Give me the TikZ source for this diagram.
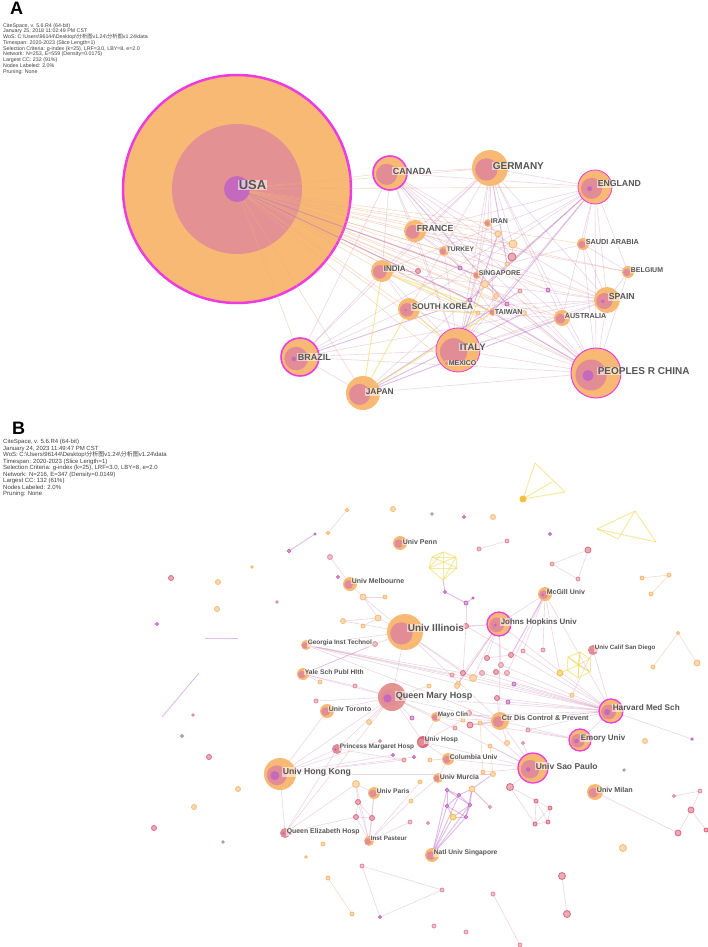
\documentclass[tikz,border=0pt]{standalone}
\usepackage{fontspec}
\setmainfont{Liberation Sans}
\newfontfamily\cjk{Noto Sans CJK SC}

\definecolor{corange}{RGB}{247,185,115}
\definecolor{cpink}{RGB}{226,140,150}
\definecolor{cred}{RGB}{218,105,125}
\definecolor{cpurple}{RGB}{196,105,190}
\definecolor{cmagenta}{RGB}{236,60,225}
\definecolor{cgold}{RGB}{245,190,60}
\definecolor{cgray}{RGB}{170,150,160}
\definecolor{lmauve}{RGB}{212,150,185}
\definecolor{lpurple}{RGB}{185,105,200}
\definecolor{lyellow}{RGB}{240,220,100}
\definecolor{lorange}{RGB}{240,175,130}
\definecolor{labgray}{RGB}{85,85,85}

\tikzset{
  link/.style={draw=lmauve, line width=0.6pt, opacity=0.4},
  linkp/.style={draw=lpurple, line width=0.9pt, opacity=0.45},
  linky/.style={draw=lyellow, line width=1pt, opacity=0.6},
  linko/.style={draw=lorange, line width=0.6pt, opacity=0.45},
  tag/.style={anchor=west, inner sep=0.6pt, fill=white, fill opacity=0.55,
    text opacity=1, text=labgray, font=\bfseries\fontsize{#1}{#1}\selectfont},
  tag/.default=6.7,
  hdr/.style={anchor=north west, align=left, inner sep=0, text=black!75}
}

% ring glyph of a citespace node: [outer style]{coordinate}{radius}{purple ratio}
\newcommand\citenode[4][]{%
  \fill[corange,#1] (#2) circle[radius=#3pt];
  \fill[cpink] ([shift={(-0.2*#3pt,-0.08*#3pt)}]#2) circle[radius=0.62*#3pt];
  \fill[cpurple] ([shift={(-0.32*#3pt,-0.1*#3pt)}]#2) circle[radius=#4*#3pt];
}
\newcommand\smalldot[3]{\fill[fill=#3!55, draw=#3, line width=0.8pt] (#1) circle[radius=#2pt];}

\begin{document}
\begin{tikzpicture}[x=1pt,y=-1pt]
%%%%% START %%%%%
\fill[white] (0,0) rectangle (708,947);
\useasboundingbox (0,0) rectangle (708,947);

\node[anchor=base west, inner sep=0, font=\bfseries\fontsize{18}{18}\selectfont] (letA) at (10,15) {A};
\node[anchor=base west, inner sep=0, font=\bfseries\fontsize{18}{18}\selectfont] (letB) at (12,434) {B};

\node[hdr, font=\fontsize{5.3}{5.75}\selectfont] (infoA) at (3,23) {CiteSpace, v. 5.6.R4 (64-bit)\\
January 25, 2018 11:02:49 PM CST\\
WoS: C:\textbackslash Users\textbackslash 96144\textbackslash Desktop\textbackslash{\cjk 分析图}v1.24\textbackslash{\cjk 分析图}v1.24\textbackslash data\\
Timespan: 2020-2023 (Slice Length=1)\\
Selection Criteria: g-index (k=25), LRF=3.0, LBY=8, e=2.0\\
Network: N=253, E=559 (Density=0.0175)\\
Largest CC: 232 (91\%)\\
Nodes Labeled: 2.0\%\\
Pruning: None};

\node[hdr, font=\fontsize{6}{6.5}\selectfont] (infoB) at (3,439) {CiteSpace, v. 5.6.R4 (64-bit)\\
January 24, 2023 11:49:47 PM CST\\
WoS: C:\textbackslash Users\textbackslash 96144\textbackslash Desktop\textbackslash{\cjk 分析图}v1.24\textbackslash{\cjk 分析图}v1.24\textbackslash data\\
Timespan: 2020-2023 (Slice Length=1)\\
Selection Criteria: g-index (k=25), LRF=3.0, LBY=8, e=2.0\\
Network: N=216, E=347 (Density=0.0149)\\
Largest CC: 132 (61\%)\\
Nodes Labeled: 2.0\%\\
Pruning: None};

%%% panel A
\foreach \n/\x/\y in {usa/237/189, canada/390/173, germany/490/168, england/595/187,
  france/415/231, iran/488/223, turkey/444/251, saudi/583/244, india/382/271,
  singapore/477/275, belgium/628/272, spain/607/300, skorea/409/309, taiwan/493/312,
  australia/562/318, italy/458/350, mexico/447/363, china/596/373, japan/363/393,
  brazil/300/357, a1/498/234, a2/513/244, a3/512/257, a4/507/264, a5/485/284,
  a6/496/296, a7/418/271, a8/460/268, a9/478/313, a10/524/313, a11/548/290,
  a12/507/304, a13/520/291, a14/470/300}
  \coordinate (\n) at (\x,\y);

\fill[corange, draw=cmagenta, line width=2.5pt] (usa) circle[radius=114pt];
\fill[cpink!90!corange] (usa) circle[radius=65pt];

\foreach \b in {canada,germany,england,france,india,skorea,italy,china,japan,brazil,spain,
  australia,taiwan,singapore,turkey,iran,saudi,belgium,mexico,a1,a2,a3,a5,a7,a8,a9,a10,a11,a12,a14}
  \draw[linko] (usa) -- (\b);
\foreach \a/\b in {canada/germany, canada/england, canada/france, canada/italy, canada/china,
  canada/spain, canada/india, canada/taiwan, canada/a3, canada/australia,
  germany/england, germany/italy, germany/china, germany/spain, germany/france, germany/australia,
  germany/taiwan, germany/skorea, germany/singapore, germany/india, germany/iran, germany/a2, germany/brazil,
  england/italy, england/china, england/spain, england/belgium, england/australia, england/saudi,
  england/skorea, england/india, england/france, england/japan, england/a5,
  france/italy, france/spain, france/belgium, france/china, france/a2, france/a11,
  india/italy, india/china, india/spain, india/skorea, india/a7, india/australia,
  skorea/china, skorea/italy, skorea/taiwan, skorea/australia, skorea/spain,
  italy/china, italy/spain, italy/brazil, italy/australia, italy/turkey, italy/iran,
  italy/singapore, italy/a9, italy/a6,
  brazil/china, brazil/spain, brazil/india, brazil/canada, brazil/skorea, brazil/japan, brazil/england,
  china/spain, china/australia, china/taiwan, china/saudi, china/singapore, china/a10, china/a13, china/belgium,
  spain/australia, spain/belgium, spain/saudi, spain/a11, spain/taiwan,
  saudi/belgium, saudi/a4, turkey/a8, turkey/france, iran/a1, iran/a3, singapore/a5,
  taiwan/a6, taiwan/a12, a5/a6, a2/a3, a3/a4, japan/china}
  \draw[link] (\a) -- (\b);
\foreach \a/\b in {england/taiwan, england/a14, japan/a10, japan/australia, usa/singapore,
  usa/a14, brazil/a14, canada/a12, germany/a4, china/a14, italy/a1, japan/a13}
  \draw[linkp] (\a) -- (\b);
\foreach \a/\b in {japan/skorea, japan/taiwan, italy/skorea, india/taiwan, japan/india,
  skorea/a9, italy/a5, india/a9}
  \draw[linky] (\a) -- (\b);

\fill[cpurple] (usa) circle[radius=13pt];
\citenode[draw=cmagenta, line width=1.6pt]{canada}{17}{0}
\citenode{germany}{18}{0}
\citenode[draw=cmagenta, line width=0.8pt]{england}{17}{0.15}
\citenode{france}{11}{0}
\citenode{india}{11}{0}
\citenode{skorea}{11}{0.12}
\citenode{spain}{13}{0.15}
\citenode{australia}{8}{0}
\citenode[draw=cmagenta, line width=0.8pt]{italy}{22}{0}
\citenode[draw=cmagenta, line width=1pt]{china}{25}{0.22}
\citenode{japan}{17}{0}
\citenode[draw=cmagenta, line width=1.6pt]{brazil}{19}{0.12}
\citenode{saudi}{6}{0}
\citenode{belgium}{6}{0}
\citenode{turkey}{5}{0}
\citenode{iran}{4}{0}
\citenode{singapore}{4}{0}
\citenode{taiwan}{4}{0}
\citenode{mexico}{3}{0}
\foreach \n/\r/\c in {a1/3/corange, a2/4/corange, a3/4/cred, a4/2/corange, a5/3.5/corange,
  a6/2.5/corange, a7/2.5/cred, a8/2/cpurple, a9/2/corange, a10/2.5/corange, a11/2/cpurple,
  a12/2/cpurple, a13/2/cpink, a14/2/cpurple}
  {\smalldot{\n}{\r}{\c}}

\foreach \n/\x/\y/\s/\t in {usa/238/185/13/USA, canada/392/171/9/CANADA, germany/492/166/10/GERMANY,
  england/597/184/8.7/ENGLAND, france/416/228/8.8/FRANCE, iran/490/221/7/IRAN,
  turkey/446/249/6.6/TURKEY, saudi/585/242/7.3/SAUDI ARABIA, india/383/269/8/INDIA,
  singapore/478/273/7/SINGAPORE, belgium/630/270/7/BELGIUM, spain/608/297/8.7/SPAIN,
  skorea/411/307/8.3/SOUTH KOREA, taiwan/494/312/7.2/TAIWAN, australia/564/316/7.2/AUSTRALIA,
  italy/459/347/9.5/ITALY, mexico/448/363/7/MEXICO, china/597/371/10/PEOPLES R CHINA,
  japan/365/392/8.4/JAPAN, brazil/297/357/9/BRAZIL}
  \node[tag=\s] (t\n) at (\x,\y) {\t};

%%% panel B
\foreach \n/\x/\y in {illinois/405/632, qmary/392/697, hku/280/774, saopaulo/533/768,
  harvard/611/711, jhu/499/624, emory/580/740, cdc/500/721, mcgill/545/594, penn/400/543,
  melb/350/584, georgia/306/645, yale/303/674, toronto/327/711, mayo/436/717, pmh/337/749,
  uhosp/423/742, columbia/448/759, murcia/438/778, milan/595/792, uparis/374/793, qeh/285/833,
  pasteur/369/841, nus/432/855, ucsd/593/650,
  y1/535/463, y2/565/492, y3/523/499, y4/552/482, y5/635/511, y6/597/529, y7/656/542, y8/618/539,
  w1/432/557, w2/443/552, w3/456/557, w4/457/568, w5/443/580, w6/429/568,
  x1/568/657, x2/580/652, x3/590/659, x4/590/672, x5/578/678, x6/567/670, x7/578/665,
  l5/205/638, l6/238/638, l7/162/717, l8/199/673}
  \coordinate (\n) at (\x,\y);
\def\smalllist{s1/466/626/2.5/cred, s2/463/673/2.5/cred, s3/487/658/2.5/cred,
  s4/501/665/2.5/cpink, s5/511/655/2.5/cred, s6/496/672/2.5/cred, s7/482/673/2.5/cpink,
  s8/507/673/2.5/cpink, s9/473/678/3.5/corange, s10/458/684/2.5/corange, s11/514/684/2/cpurple,
  s12/497/698/2.5/cred, s13/508/702/2/cpurple, s14/470/725/3/cred, s15/455/728/2/cpink,
  s16/528/730/2/cpink, s17/523/651/2/cpink, s18/543/650/2/cpink, s19/560/673/3/cgold,
  s20/572/695/2/corange, s21/466/603/2/cpurple, s22/452/675/2/cpink, s23/429/686/2/corange,
  s24/355/686/2/cpink, s25/320/682/2/corange, s26/378/618/3/corange, s27/343/621/2.5/corange,
  s28/363/626/2/corange, s29/375/644/2.5/cpink, s30/363/597/3/corange, s31/385/597/2/corange,
  s32/338/577/1.5/cpurple, s33/330/557/2.5/cpink, s34/316/701/2/cpink, s35/369/722/2.5/corange,
  s36/412/718/2/cpurple, s37/380/741/1.5/cpink, s38/457/686/2.5/corange, s39/469/713/2.5/cpink,
  s40/463/720/2/corange, s41/480/723/2/corange, s42/507/743/2.5/corange, s43/490/746/2/corange,
  s44/523/743/1.5/cpink, s45/393/755/1.5/cpurple, s46/404/760/2/cpink, s47/414/757/1.5/cpurple,
  s48/430/760/2/corange, s49/483/772/2/corange, s50/493/774/2.5/corange, s51/356/784/3.5/corange,
  s52/420/782/2/corange, s53/411/801/2/corange, s55/490/807/1.5/cpink, s56/358/802/2.5/cred,
  s57/356/817/2.5/cred, s58/372/818/2.5/cred, s59/410/822/2/cpink, s60/428/823/1.5/cpink,
  p1/447/790/1.8/cpurple, p2/459/795/1.8/cpurple, p3/472/789/3/corange, p4/447/806/1.8/cpurple,
  p5/470/805/1.8/cpurple, p6/453/817/3/cgold, p7/466/817/1.8/cpurple,
  q1/510/787/3.5/cred, q2/536/801/2/cred, q3/550/808/2/cred, q4/548/822/2/cred, q5/535/824/2/cred,
  t1/393/509/2.5/corange, t2/347/510/1.8/corange, t3/328/533/1.8/corange, t4/289/551/1.8/cpurple,
  t5/315/534/1/cpurple, t6/432/514/1.2/cgray, t7/464/517/1.5/cpurple, t8/493/517/2.5/corange,
  t9/479/549/2/cpink, t10/507/541/2/cpink, t11/252/567/1.2/corange, t12/277/602/1.2/cpink,
  t13/550/534/1.5/cpurple, t14/445/592/1.5/cpurple, t15/473/598/1/cpurple,
  u1/552/564/2/cpink, u2/588/550/3/cred, u3/578/579/2/cpink, u4/642/578/2/corange,
  u5/669/575/2/corange, u6/651/594/2/corange, u7/653/667/2/corange, u8/678/633/1.5/corange,
  u9/697/663/3/corange, m1/674/796/1.5/cpink, m2/700/791/2/cpink, m3/691/810/3/cred,
  m4/706/830/2/cred, m5/678/833/3/cred, r1/645/741/2.5/corange, r2/624/770/1.2/cgray,
  r3/692/739/1.2/cpurple, r4/623/848/3.5/corange,
  v1/362/866/2/cpink, v2/442/890/2/cpink, v3/380/917/1.5/cpurple, v4/328/878/2/corange,
  v5/352/914/2/corange, v6/562/876/3.5/cred, v7/567/914/3.5/cred, v8/493/894/2/cpink,
  v9/520/945/2/cpink, v10/434/926/2/cpink, v11/466/932/2/cpink, v12/323/844/2/corange,
  v13/306/857/1.2/corange,
  l1/171/578/2.5/cred, l2/218/582/2.5/corange, l3/217/609/2.5/corange, l4/157/624/1.5/cpurple,
  l9/193/715/1.2/cpink, l10/182/736/1.5/cgray, l11/209/757/2.5/cred, l12/238/789/2.5/corange,
  l13/194/807/2.5/corange, l14/154/828/2.5/cred, l15/223/842/1.2/cgray}
\foreach \n/\x/\y/\r/\c in \smalllist
  \coordinate (\n) at (\x,\y);

\foreach \a/\b in {illinois/georgia, illinois/jhu, illinois/qmary, illinois/s26, illinois/s27,
  illinois/s1, illinois/s2, illinois/cdc, illinois/s9, illinois/s30, illinois/yale,
  georgia/s2, georgia/s9, georgia/cdc, georgia/s10, georgia/s22, georgia/harvard,
  yale/qmary, yale/s29, yale/s24, yale/s25,
  qmary/hku, qmary/pmh, qmary/qeh, qmary/toronto, qmary/uhosp, qmary/s35, qmary/mayo,
  qmary/cdc, qmary/harvard, qmary/s34, qmary/saopaulo, qmary/s24, qmary/s23, qmary/s36,
  hku/pmh, hku/qeh, hku/s46, hku/s47, hku/s45, hku/s37, hku/s50, hku/toronto,
  pmh/qeh, pmh/s46, qeh/s51, qeh/s57,
  harvard/jhu, harvard/cdc, harvard/emory, harvard/mayo, harvard/s2, harvard/s9, harvard/s7,
  harvard/s6, harvard/s11, harvard/s12, harvard/s14, harvard/mcgill, harvard/ucsd, harvard/r3,
  harvard/s16, harvard/s17, harvard/s4, harvard/s13, harvard/s1,
  jhu/mcgill, jhu/s3, jhu/s1, jhu/s2, jhu/s10, jhu/s4, jhu/cdc, jhu/s9, jhu/s38,
  mcgill/s18, mcgill/s8, mcgill/s19, mcgill/s17, ucsd/x3, ucsd/s20,
  emory/cdc, emory/s16, emory/mayo,
  cdc/s12, cdc/mayo, cdc/s14, cdc/saopaulo, cdc/s42, cdc/s41, cdc/s39,
  saopaulo/s41, saopaulo/s43, saopaulo/columbia, saopaulo/s49, saopaulo/q1, saopaulo/s44, saopaulo/uhosp,
  uhosp/mayo, uhosp/columbia, uhosp/s40, columbia/murcia, columbia/s48,
  murcia/s50, murcia/s53, uparis/s51, uparis/s58, uparis/pasteur,
  pasteur/s51, pasteur/s56, pasteur/s57, pasteur/s58, pasteur/s59, pasteur/s53, pasteur/s52,
  s51/s56, s56/s57, s57/s58, s56/s58,
  q1/q2, q1/q5, q2/q3, q2/q4, q2/q5, q3/q4, q3/q5, q4/q5,
  melb/s33, melb/s30, s30/s31, s30/s26, s26/s27, s26/s28, s21/s1, s1/s2,
  t2/t3, t9/t10, u1/u2, u2/u3, u3/u1, m1/m2, m2/m3, m3/m5, m3/m4, milan/m5,
  v1/v2, v2/v3, v3/v1, v8/v9, v6/v7, s3/s5, s7/s9, s2/s10}
  \draw[link] (\a) -- (\b);
\foreach \a/\b in {u4/u5, u5/u6, u7/u8, u8/u9, v4/v5, s41/s49, s43/s50}
  \draw[linko] (\a) -- (\b);
\foreach \a/\b in {nus/p1, nus/p2, nus/p4, nus/p6, nus/p7, nus/p5, p1/p2, p2/p3, p1/p4, p2/p5,
  p3/p5, p4/p6, p5/p7, p6/p7, p1/p5, p2/p4, p4/p7, p3/p7, p5/p6, p3/s55, p3/s50,
  mcgill/s5, w5/t14, t14/s21, s21/t15, t4/t5, l5/l6, l7/l8}
  \draw[linkp] (\a) -- (\b);
\foreach \a/\b in {y1/y2, y2/y3, y3/y1, y3/y4, y5/y6, y6/y7, y7/y5, y5/y8, y6/y8,
  w1/w2, w2/w3, w3/w4, w4/w5, w5/w6, w6/w1, w1/w3, w1/w4, w2/w5, w2/w6, w3/w5, w3/w6, w4/w6,
  x1/x2, x2/x3, x3/x4, x4/x5, x5/x6, x6/x1, x7/x1, x7/x2, x7/x3, x7/x4, x7/x5, x7/x6, x1/x4, x2/x5,
  x6/s19}
  \draw[linky] (\a) -- (\b);

\foreach \n/\x/\y/\r/\c in \smalllist
  {\smalldot{\n}{\r}{\c}}
\fill[cgold] (y3) circle[radius=3.5pt];

\citenode{illinois}{18}{0}
\citenode[fill=cpink!85!corange]{qmary}{14}{0.3}
\citenode{hku}{16}{0.28}
\citenode[draw=cmagenta, line width=1.3pt]{saopaulo}{15}{0.15}
\citenode[draw=cmagenta, line width=1.3pt]{harvard}{12}{0.25}
\citenode[draw=cmagenta, line width=1.3pt]{jhu}{12}{0.15}
\citenode[draw=cmagenta, line width=1.3pt]{emory}{11}{0.2}
\citenode{cdc}{9}{0}
\citenode{mcgill}{7}{0.2}
\citenode{penn}{7}{0}
\citenode{melb}{7}{0}
\citenode{georgia}{5}{0}
\citenode{yale}{6}{0}
\citenode{toronto}{7}{0}
\citenode{mayo}{5}{0}
\citenode[fill=cpink]{pmh}{5}{0.3}
\citenode[fill=cred]{uhosp}{6}{0}
\citenode{columbia}{6}{0}
\citenode{murcia}{5}{0}
\citenode{milan}{8}{0}
\citenode{uparis}{6}{0}
\citenode[fill=cpink]{qeh}{5}{0.3}
\citenode{pasteur}{5}{0}
\citenode{nus}{7}{0}
\citenode[fill=cpink]{ucsd}{5}{0}

\foreach \n/\x/\y/\s/\t in {penn/402/542/7/Univ Penn, melb/351/581/7/Univ Melbourne,
  illinois/407/628/10/Univ Illinois, georgia/307/643/6.5/Georgia Inst Technol,
  yale/304/672/6.7/Yale Sch Publ Hlth, qmary/395/696/9/Queen Mary Hosp,
  toronto/328/709/6.9/Univ Toronto, mayo/437/715/6.4/Mayo Clin,
  cdc/501/718/7.2/Ctr Dis Control \& Prevent, harvard/612/708/8.2/Harvard Med Sch,
  emory/580/738/8/Emory Univ, pmh/339/747/6.5/Princess Margaret Hosp,
  uhosp/424/740/6.7/Univ Hosp, columbia/449/757/6.8/Columbia Univ,
  saopaulo/535/766/8.5/Univ Sao Paulo, hku/282/772/8.7/Univ Hong Kong,
  murcia/439/777/6.9/Univ Murcia, milan/596/790/7.2/Univ Milan,
  uparis/376/791/6.7/Univ Paris, qeh/286/832/6.9/Queen Elizabeth Hosp,
  pasteur/370/838/6.3/Inst Pasteur, nus/433/853/6.7/Natl Univ Singapore,
  mcgill/546/592/7/McGill Univ, jhu/500/622/7.9/Johns Hopkins Univ,
  ucsd/594/648/6.2/Univ Calif San Diego}
  \node[tag=\s] (t\n) at (\x,\y) {\t};
%%%%% END %%%%%
\end{tikzpicture}
\end{document}
